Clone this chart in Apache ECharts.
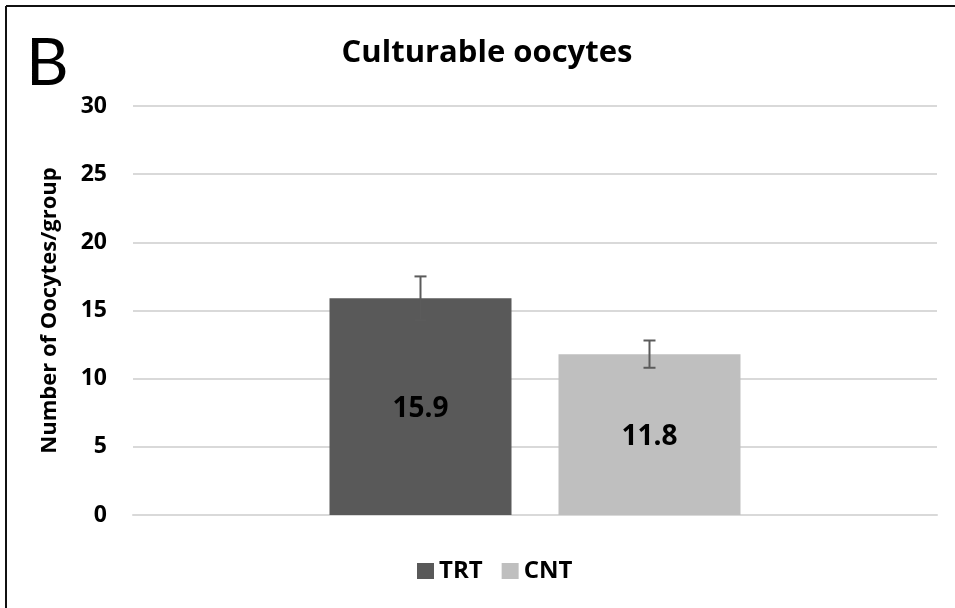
<!DOCTYPE html>
<html>
<head>
<meta charset="utf-8">
<script src="https://cdn.jsdelivr.net/npm/echarts@6/dist/echarts.min.js"></script>
<style>
  html, body { margin: 0; padding: 0; background: #fff; }
  #main { width: 955px; height: 608px; }
</style>
</head>
<body>
<div id="main"></div>
<script>
// data
const groups = ['TRT', 'CNT']
const means = [15.9, 11.8]
const errors = [1.6, 1.0]
const barColors = ['#595959', '#bfbfbf']
const yTicks = [0, 5, 10, 15, 20, 25, 30]

const FONT = 'Open Sans'
const barWidth = 182
const barGapPx = 47

let myChart = echarts.init(document.getElementById('main'))

let barSeries = groups.map((g, i) => ({
    name: g,
    type: 'bar',
    data: [means[i]],
    barWidth: barWidth,
    barGap: (barGapPx / barWidth * 100) + '%',
    itemStyle: { color: barColors[i] },
    label: {
        show: true,
        position: 'inside',
        offset: [0, 2],
        color: '#000',
        fontFamily: FONT,
        fontWeight: 'bold',
        fontSize: 28
    },
    z: 2
}))

// error bars, one custom series, shifted to each bar centre
let errSeries = {
    type: 'custom',
    silent: true,
    z: 3,
    data: groups.map((g, i) => [0, means[i] - errors[i], means[i] + errors[i], i]),
    renderItem: function (params, api) {
        let i = api.value(3)
        let shift = (i === 0 ? -1 : 1) * (barWidth + barGapPx) / 2
        let lo = api.coord([0, api.value(1)])
        let hi = api.coord([0, api.value(2)])
        let x = lo[0] + shift
        let cap = 6
        let style = { stroke: '#5b5b5b', lineWidth: 2 }
        return {
            type: 'group',
            children: [
                { type: 'line', shape: { x1: x, y1: lo[1], x2: x, y2: hi[1] }, style: style },
                { type: 'line', shape: { x1: x - cap, y1: hi[1], x2: x + cap, y2: hi[1] }, style: style },
                { type: 'line', shape: { x1: x - cap, y1: lo[1], x2: x + cap, y2: lo[1] }, style: style }
            ]
        }
    }
}

let option = {
    backgroundColor: '#fff',
    animation: false,
    title: {
        text: 'Culturable oocytes',
        left: 482,
        top: 33,
        textAlign: 'center',
        textStyle: { fontFamily: FONT, fontWeight: 'bold', fontSize: 31, color: '#000' }
    },
    legend: {
        data: groups,
        top: 554,
        left: 412,
        itemWidth: 17,
        itemHeight: 16,
        itemGap: 19,
        icon: 'rect',
        textStyle: { fontFamily: FONT, fontWeight: 'bold', fontSize: 24, color: '#000' }
    },
    grid: {
        left: 133,
        right: 18,
        top: 106,
        bottom: 93
    },
    xAxis: {
        type: 'category',
        data: [''],
        axisTick: { show: false },
        axisLabel: { show: false },
        axisLine: { show: true, lineStyle: { color: '#d9d9d9', width: 2 } }
    },
    yAxis: {
        type: 'value',
        min: yTicks[0],
        max: yTicks[yTicks.length - 1],
        interval: 5,
        name: 'Number of Oocytes/group',
        nameLocation: 'middle',
        nameGap: 72,
        nameTextStyle: { fontFamily: FONT, fontWeight: 'bold', fontSize: 22, color: '#000' },
        axisLine: { show: false },
        axisTick: { show: false },
        axisLabel: {
            margin: 26,
            fontFamily: FONT,
            fontWeight: 'bold',
            fontSize: 23,
            color: '#000'
        },
        splitLine: { show: true, lineStyle: { color: '#d9d9d9', width: 2 } }
    },
    graphic: [
        { type: 'line', shape: { x1: 6, y1: 6, x2: 955, y2: 6 }, style: { stroke: '#111', lineWidth: 2 } },
        { type: 'line', shape: { x1: 6, y1: 6, x2: 6, y2: 608 }, style: { stroke: '#111', lineWidth: 2 } },
        {
            type: 'text',
            left: 26,
            top: 31,
            style: { text: 'B', fontFamily: 'Lato', fontSize: 66, fill: '#000' }
        }
    ],
    series: barSeries.concat([errSeries])
}
myChart.setOption(option)
</script>
</body>
</html>
